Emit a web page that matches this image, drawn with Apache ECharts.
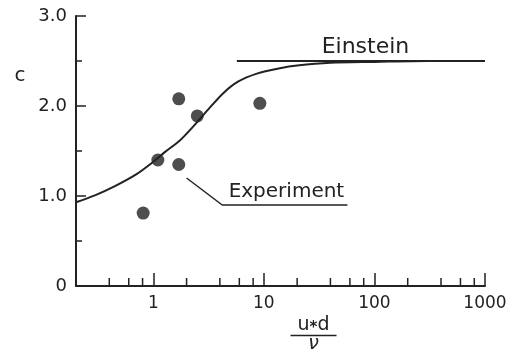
<!DOCTYPE html>
<html lang="en">
<head>
<meta charset="UTF-8">
<title>c vs u*d/nu</title>
<script src="https://cdn.jsdelivr.net/npm/echarts@6/dist/echarts.min.js"></script>
<style>
  html, body { margin: 0; padding: 0; background: #fff; }
  #main { width: 514px; height: 356px; }
</style>
</head>
<body>
<div id="main"></div>
<script>
// measured points
const experimentX = [0.81, 1.1, 1.7, 1.7, 2.5, 9.2];
const experimentC = [0.81, 1.40, 1.35, 2.08, 1.89, 2.03];

// fitted curve
const curveX = [0.2, 0.3, 0.45, 0.7, 1, 1.28, 1.75, 2.29, 3.13, 4.27, 5.83, 8.65, 14, 20, 40, 100, 300, 1000];
const curveC = [0.93, 1.01, 1.11, 1.24, 1.38, 1.49, 1.62, 1.77, 1.96, 2.14, 2.27, 2.36, 2.42, 2.45, 2.48, 2.49, 2.50, 2.50];

// Einstein limit
const einsteinX = [5.7, 1000];
const einsteinC = [2.5, 2.5];

// leader line for the "Experiment" label
const leaderX = [2.0, 4.2, 57];
const leaderC = [1.2, 0.9, 0.9];

const xMinorTicks = [0.4, 0.6, 0.8, 2, 4, 6, 8, 20, 40, 60, 80, 200, 400, 600, 800];

const ink = '#222';
const font = 'DejaVu Sans';

function pairs(xs, ys) {
  return xs.map((x, i) => [x, ys[i]]);
}

var myChart = echarts.init(document.getElementById('main'));

option = {
  backgroundColor: '#fff',
  animation: false,
  grid: {
    left: 76,
    right: 29,
    top: 16,
    bottom: 70,
    containLabel: false,
    outerBoundsMode: 'none'
  },
  xAxis: {
    type: 'log',
    logBase: 10,
    min: 0.2,
    max: 1000,
    name: '{a|u}{s|*}{a|d}\n{bar|}\n{v|\u03bd}',
    nameLocation: 'middle',
    nameGap: 30,
    nameMoveOverlap: false,
    nameTextStyle: {
      padding: [0, 0, 0, 66],
      rich: {
        a: { fontSize: 19, fontFamily: font, color: ink, lineHeight: 18 },
        s: { fontSize: 15, fontFamily: font, fontWeight: 'bold', color: ink, lineHeight: 18, padding: [7, 0, 0, 0] },
        bar: { width: 46, height: 1.5, backgroundColor: ink, lineHeight: 3 },
        v: { fontSize: 19, fontFamily: font, fontStyle: 'italic', color: ink, lineHeight: 15 }
      }
    },
    axisLine: { onZero: false, lineStyle: { color: ink, width: 2 } },
    axisTick: { inside: true, length: 13, lineStyle: { color: ink, width: 1.5 } },
    axisLabel: {
      color: ink,
      fontSize: 17,
      fontFamily: font,
      margin: 9,
      formatter: function (v) { return v >= 1 ? String(Math.round(v)) : ''; }
    },
    splitLine: { show: false },
    minorTick: { show: false }
  },
  yAxis: {
    type: 'value',
    min: 0,
    max: 3,
    interval: 1,
    name: 'c',
    nameLocation: 'end',
    nameRotate: 0,
    nameGap: -70,
    nameMoveOverlap: false,
    nameTextStyle: { color: ink, fontSize: 20, fontFamily: font, align: 'center', verticalAlign: 'bottom', padding: [0, 112, 0, 0] },
    axisLine: { onZero: false, lineStyle: { color: ink, width: 2 } },
    axisTick: { inside: true, length: 10, lineStyle: { color: ink, width: 1.5 } },
    minorTick: { show: true, splitNumber: 2, length: 6, lineStyle: { color: ink, width: 1.5 } },
    axisLabel: {
      color: ink,
      fontSize: 18,
      fontFamily: font,
      margin: 9,
      formatter: function (v) { return v === 0 ? '0' : v.toFixed(1); }
    },
    splitLine: { show: false },
    minorSplitLine: { show: false }
  },
  series: [
    {
      name: 'minor ticks',
      type: 'custom',
      silent: true,
      clip: false,
      data: xMinorTicks.map(v => [v, 0]),
      encode: { x: 0, y: 1 },
      renderItem: function (params, api) {
        const p = api.coord([api.value(0), 0]);
        return {
          type: 'line',
          shape: { x1: p[0], y1: p[1], x2: p[0], y2: p[1] - 8 },
          style: { stroke: ink, lineWidth: 1.5 }
        };
      }
    },
    {
      name: 'Einstein',
      type: 'line',
      data: pairs(einsteinX, einsteinC),
      symbol: 'none',
      lineStyle: { color: ink, width: 2 },
      markPoint: {
        symbol: 'circle',
        symbolSize: 0,
        data: [{ coord: [83, 2.5] }],
        label: {
          show: true,
          position: 'top',
          distance: 3,
          formatter: 'Einstein',
          color: ink,
          fontSize: 22,
          fontFamily: font
        }
      }
    },
    {
      name: 'curve',
      type: 'line',
      data: pairs(curveX, curveC),
      symbol: 'none',
      smooth: 0.3,
      lineStyle: { color: ink, width: 2 }
    },
    {
      name: 'leader',
      type: 'line',
      data: pairs(leaderX, leaderC),
      symbol: 'none',
      lineStyle: { color: ink, width: 1.5 },
      markPoint: {
        symbol: 'circle',
        symbolSize: 0,
        data: [{ coord: [16, 0.9] }],
        label: {
          show: true,
          position: 'top',
          distance: 3,
          formatter: 'Experiment',
          color: ink,
          fontSize: 20,
          fontFamily: font
        }
      }
    },
    {
      name: 'Experiment',
      type: 'scatter',
      data: pairs(experimentX, experimentC),
      symbol: 'circle',
      symbolSize: 13,
      itemStyle: { color: ink },
      z: 5
    }
  ]
};

myChart.setOption(option);
</script>
</body>
</html>
